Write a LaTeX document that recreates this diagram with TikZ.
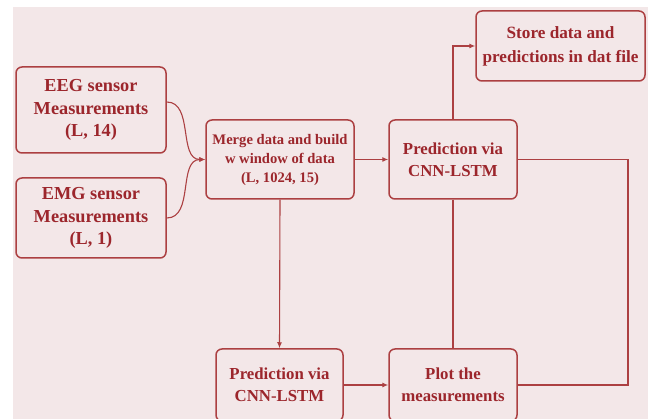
\documentclass[tikz,border=0pt]{standalone}
\usepackage{fontspec}
\setmainfont{Liberation Serif}
\usepackage{tikz}
\usetikzlibrary{
    arrows.meta,  % arrow tips
    positioning,  % better custom positioning
}
\definecolor{boxred}{RGB}{172,64,66}
\definecolor{textred}{RGB}{156,38,44}
\definecolor{paper}{RGB}{243,231,232}
\tikzset{
    box/.style={draw=boxred, line width=1.5pt, rounded corners=6pt, text=textred,
        align=center, inner sep=0pt, font=\fontsize{18.3}{22.5}\selectfont\bfseries},
    link/.style={draw=boxred, line width=1.1pt, -{Latex[length=6pt,width=5pt]}},
    wire/.style={draw=boxred, line width=1.1pt},
}

\begin{document}
\begin{tikzpicture}[x=1pt, y=-1pt]
    \useasboundingbox (0, 0) rectangle (648, 419);
    \fill[paper] (13, 7) rectangle (648, 419);

    \node[box, minimum width=150pt, minimum height=86pt] (eeg) at (91, 110)
        {EEG sensor\\Measurements\\(L, 14)};
    \node[box, minimum width=150pt, minimum height=80pt] (emg) at (91, 218)
        {EMG sensor\\Measurements\\(L, 1)};
    \node[box, minimum width=148pt, minimum height=79pt,
        font=\fontsize{14.6}{19}\selectfont\bfseries] (merge) at (280, 159.5)
        {Merge data and build\\w window of data\\(L, 1024, 15)};
    \node[box, minimum width=128pt, minimum height=79pt,
        font=\fontsize{16.8}{22}\selectfont\bfseries] (pred1) at (453, 159.5)
        {Prediction via\\CNN-LSTM};
    \node[box, minimum width=169pt, minimum height=70pt,
        font=\fontsize{17.2}{24}\selectfont\bfseries] (store) at (560.5, 46)
        {Store data and\\predictions in dat file};
    \node[box, minimum width=127pt, minimum height=72pt,
        font=\fontsize{16.8}{22}\selectfont\bfseries] (pred2) at (279.5, 385)
        {Prediction via\\CNN-LSTM};
    \node[box, minimum width=128pt, minimum height=72pt,
        font=\fontsize{16.8}{22}\selectfont\bfseries] (plot) at (453, 385)
        {Plot the\\measurements};
    \coordinate (rim) at (628, 0);

    \draw[link] ([yshift=8pt]eeg.east) to[out=0, in=180] (merge.west);
    \draw[link] (emg.east) to[out=0, in=180] (merge.west);
    \draw[link] (merge.east) -- (pred1.west);
    \draw[link] (pred1.north) |- (store.west);
    \draw[link] (merge.south) -- (pred2.north);
    \draw[link] (pred2.east) -- (plot.west);
    \draw[wire] (pred1.south) -- (plot.north);
    \draw[wire] (pred1.east) -- (pred1.east -| rim) |- (plot.east);
\end{tikzpicture}
\end{document}
